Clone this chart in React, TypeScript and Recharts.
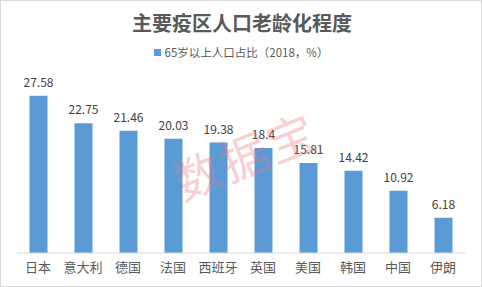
import React from 'react';
import { BarChart, Bar, XAxis, YAxis, LabelList, Legend } from 'recharts';

const countries = ['日本', '意大利', '德国', '法国', '西班牙', '英国', '美国', '韩国', '中国', '伊朗'];
const shares = [27.58, 22.75, 21.46, 20.03, 19.38, 18.4, 15.81, 14.42, 10.92, 6.18];
const seriesName = '65岁以上人口占比（2018，%）';
const title = '主要疫区人口老龄化程度';

const data = countries.map((c, i) => ({ name: c, value: shares[i] }));

const FONT = '"Noto Sans CJK SC", "Noto Sans", sans-serif';
const BAR = '#5B9BD5';

const LegendContent = () => (
  <div style={{ display: 'flex', alignItems: 'center', justifyContent: 'center', fontFamily: FONT, fontSize: 11.5, color: '#595959' }}>
    <span style={{ display: 'inline-block', width: 7, height: 7, background: BAR, marginRight: 4 }} />
    <span>{seriesName}</span>
  </div>
);

export default function App() {
  return (
    <div style={{ position: 'absolute', left: 0, top: 0, width: 482, height: 287, background: '#fff', boxSizing: 'border-box', border: '1px solid #d9d9d9', overflow: 'hidden' }}>
      <div style={{ position: 'absolute', left: 0, top: 8, width: 482, textAlign: 'center', fontFamily: FONT, fontWeight: 700, fontSize: 20, color: '#595959', lineHeight: '28px' }}>
        {title}
      </div>
      <div style={{ position: 'absolute', left: 168, top: 118, transform: 'rotate(-22deg)', fontFamily: FONT, fontSize: 48, color: 'rgba(235,120,130,0.35)', pointerEvents: 'none', zIndex: 2, letterSpacing: 2 }}>
        数据宝
      </div>
      <div style={{ position: 'absolute', left: -1, top: -1 }}>
        <BarChart width={482} height={287} data={data} margin={{ top: 82, right: 16.5, bottom: 0, left: 15.5 }} barSize={18}>
          <XAxis dataKey="name" height={34} tickLine={false} tickSize={0} tickMargin={10} axisLine={{ stroke: '#d9d9d9' }} tick={{ fontFamily: FONT, fontSize: 13, fill: '#595959' }} interval={0} />
          <YAxis hide domain={[0, 30]} />
          <Legend verticalAlign="middle" align="center" wrapperStyle={{ top: 44, left: 0, width: 482 }} content={<LegendContent />} />
          <Bar dataKey="value" name={seriesName} fill={BAR} isAnimationActive={false}>
            <LabelList dataKey="value" position="top" offset={9} style={{ fontFamily: FONT, fontSize: 12, fill: '#404040' }} />
          </Bar>
        </BarChart>
      </div>
    </div>
  );
}
